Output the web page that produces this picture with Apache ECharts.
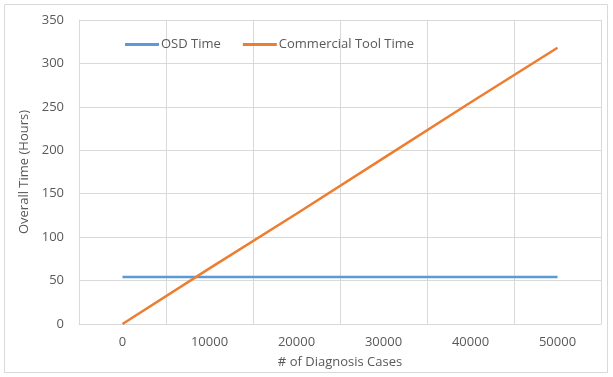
<!DOCTYPE html>
<html>
<head>
<meta charset="utf-8">
<script src="https://cdn.jsdelivr.net/npm/echarts@6/dist/echarts.min.js"></script>
<style>
  html, body { margin: 0; padding: 0; background: #fff; }
  #chart { width: 613px; height: 377px; }
</style>
</head>
<body>
<div id="chart"></div>
<script>
// Number of diagnosis cases (x categories)
const caseCounts = ['0', '10000', '20000', '30000', '40000', '50000'];
// Overall time in hours for each approach
const osdTime = [54, 54, 54, 54, 54, 54];
const commercialToolTime = [0, 64, 127, 191, 255, 318];
// Value-axis tick range
const yMin = 0, yMax = 350, yStep = 50;

const textColor = '#595959';
const gridColor = '#d9d9d9';
const font = '"Open Sans", "Liberation Sans", sans-serif';

const chart = echarts.init(document.getElementById('chart'), null, { renderer: 'canvas' });
chart.setOption({
  animation: false,
  backgroundColor: '#fff',
  textStyle: { fontFamily: font, color: textColor },
  graphic: [{
    type: 'rect',
    shape: { x: 4.5, y: 4.5, width: 603, height: 368 },
    style: { fill: 'none', stroke: gridColor, lineWidth: 1 },
    silent: true
  }],
  grid: { left: 79, right: 12, top: 20, bottom: 53 },
  legend: {
    left: 120, top: 33,
    itemWidth: 34, itemHeight: 3, itemGap: 22,
    icon: 'rect',
    textStyle: { fontFamily: font, fontSize: 13, color: textColor, padding: [0, 0, 0, -3] },
    data: ['OSD Time', 'Commercial Tool Time']
  },
  xAxis: {
    type: 'category',
    data: caseCounts,
    boundaryGap: true,
    name: '# of Diagnosis Cases',
    nameLocation: 'middle',
    nameGap: 32,
    nameTextStyle: { fontFamily: font, fontSize: 13, color: textColor },
    axisLine: { show: true, lineStyle: { color: gridColor, width: 1 } },
    axisTick: { show: false },
    axisLabel: { margin: 12, fontFamily: font, fontSize: 13, color: textColor },
    splitLine: { show: true, lineStyle: { color: gridColor, width: 1 } }
  },
  yAxis: {
    type: 'value',
    min: yMin, max: yMax, interval: yStep,
    name: 'Overall Time (Hours)',
    nameLocation: 'middle',
    nameGap: 42,
    nameTextStyle: { fontFamily: font, fontSize: 13, color: textColor },
    axisLine: { show: true, lineStyle: { color: gridColor, width: 1 } },
    axisTick: { show: false },
    axisLabel: { margin: 15, fontFamily: font, fontSize: 13, color: textColor },
    splitLine: { show: true, lineStyle: { color: gridColor, width: 1 } }
  },
  series: [
    {
      name: 'OSD Time', type: 'line', data: osdTime,
      showSymbol: false, symbol: 'none',
      lineStyle: { color: '#5b9bd5', width: 2.5 },
      itemStyle: { color: '#5b9bd5' }
    },
    {
      name: 'Commercial Tool Time', type: 'line', data: commercialToolTime,
      showSymbol: false, symbol: 'none',
      lineStyle: { color: '#ed7d31', width: 2.5 },
      itemStyle: { color: '#ed7d31' }
    }
  ]
});
</script>
</body>
</html>
